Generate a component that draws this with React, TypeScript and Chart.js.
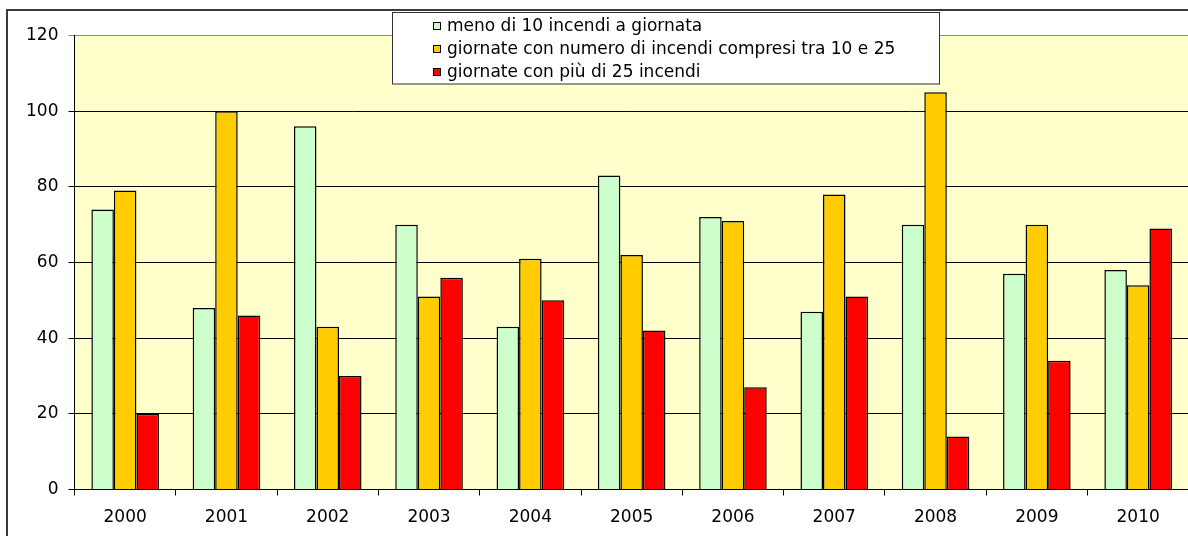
import React, { useEffect, useRef } from "react";
import { Chart, registerables } from "chart.js";

Chart.register(...registerables);

const years = ["2000", "2001", "2002", "2003", "2004", "2005", "2006", "2007", "2008", "2009", "2010"];
const menoDi10 = [74, 48, 96, 70, 43, 83, 72, 47, 70, 57, 58];
const tra10e25 = [79, 100, 43, 51, 61, 62, 71, 78, 105, 70, 54];
const oltre25 = [20, 46, 30, 56, 50, 42, 27, 51, 14, 34, 69];
const seriesLabels = [
  "meno di 10 incendi a giornata",
  "giornate con numero di incendi compresi tra 10 e 25",
  "giornate con più di 25 incendi",
];
const seriesColors = ["#CCFFCC", "#FFCC00", "#FF0000"];
const yMin = 0;
const yMax = 120;
const yStep = 20;

const FONT_FAMILY = "'DejaVu Sans', sans-serif";

const decorPlugin = {
  id: "decor",
  beforeDraw(chart: any) {
    const { ctx, chartArea } = chart;
    ctx.save();
    ctx.fillStyle = "#FFFFFF";
    ctx.fillRect(0, 0, chart.width, chart.height);
    ctx.fillStyle = "#FFFFCC";
    ctx.fillRect(chartArea.left, chartArea.top, chartArea.right - chartArea.left, chartArea.bottom - chartArea.top);
    ctx.restore();
  },
  afterDraw(chart: any) {
    const { ctx } = chart;
    ctx.save();
    // outer frame
    ctx.strokeStyle = "#3a3a3a";
    ctx.lineWidth = 2;
    ctx.strokeRect(7, 10, 1400, 800);
    // legend box
    const bx = 392.5, by = 12.5, bw = 547, bh = 71.5;
    ctx.fillStyle = "#FFFFFF";
    ctx.fillRect(bx, by, bw, bh);
    ctx.strokeStyle = "#333333";
    ctx.lineWidth = 1;
    ctx.strokeRect(bx, by, bw, bh);
    ctx.font = `17px ${FONT_FAMILY}`;
    ctx.textBaseline = "middle";
    ctx.textAlign = "left";
    const rows = [26, 49, 72];
    chart.data.datasets.forEach((ds: any, i: number) => {
      const cy = rows[i];
      ctx.fillStyle = ds.backgroundColor;
      ctx.fillRect(433.5, cy - 3.5, 7, 7);
      ctx.strokeStyle = "#000";
      ctx.strokeRect(433.5, cy - 3.5, 7, 7);
      ctx.fillStyle = "#000";
      ctx.fillText(ds.label, 447, cy + 1);
    });
    ctx.restore();
  },
};

export default function App() {
  const ref = useRef<HTMLCanvasElement | null>(null);
  useEffect(() => {
    if (!ref.current) return;
    const chart = new Chart(ref.current, {
      type: "bar",
      data: {
        labels: years,
        datasets: [menoDi10, tra10e25, oltre25].map((d, i) => ({
          label: seriesLabels[i],
          data: d,
          backgroundColor: seriesColors[i],
          borderColor: "#000000",
          borderWidth: 1.5,
          categoryPercentage: 0.667,
          barPercentage: 1,
        })),
      },
      options: {
        responsive: false,
        devicePixelRatio: 1,
        animation: false,
        layout: { padding: { left: 0, top: 35.5, right: 3.2, bottom: 0 } },
        plugins: { legend: { display: false }, tooltip: { enabled: false } },
        scales: {
          x: {
            grid: { offset: true, drawOnChartArea: false, drawTicks: true, tickLength: 6, color: "#000" },
            border: { color: "#000" },
            ticks: { font: { family: FONT_FAMILY, size: 17 }, color: "#000", padding: 12, maxRotation: 0 },
            afterFit: (s: any) => {
              s.height = 46.5;
            },
          },
          y: {
            min: yMin,
            max: yMax,
            ticks: { stepSize: yStep, font: { family: FONT_FAMILY, size: 17 }, color: "#000", padding: 10 },
            grid: {
              color: (c: any) => (c.tick && c.tick.value === yMax ? "#888888" : "#000000"),
              tickLength: 6,
            },
            border: { color: "#000" },
            afterFit: (s: any) => {
              s.width = 74.5;
            },
          },
        },
      },
      plugins: [decorPlugin],
    });
    return () => chart.destroy();
  }, []);
  return (
    <div style={{ position: "fixed", left: 0, top: 0, width: 1188, height: 536, overflow: "hidden", background: "#fff" }}>
      <canvas ref={ref} width={1192} height={536} style={{ width: 1192, height: 536, display: "block" }} />
    </div>
  );
}
